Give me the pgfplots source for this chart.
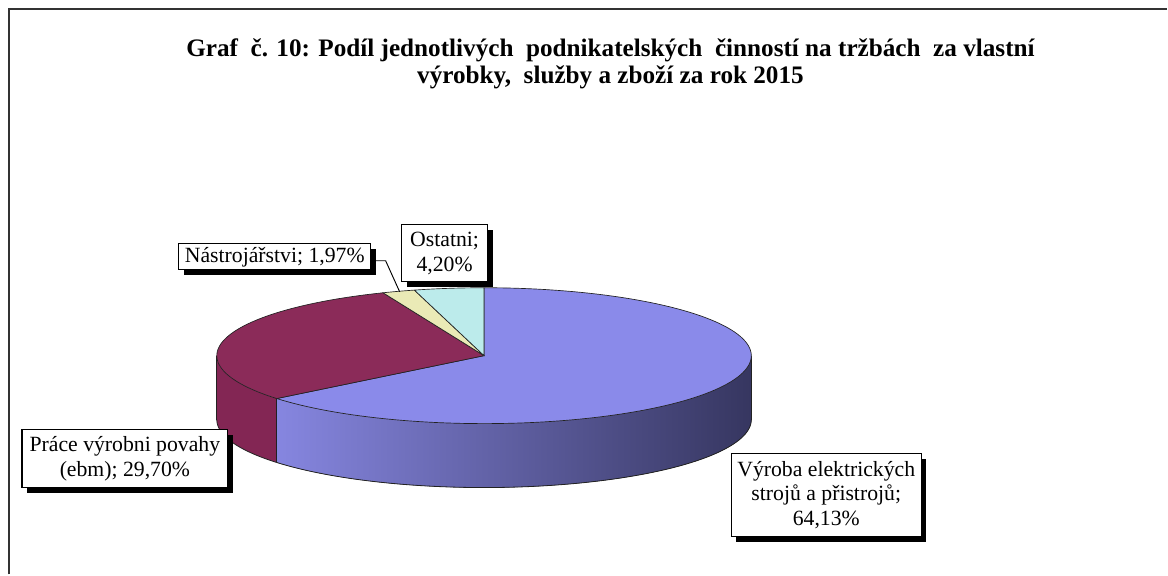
\documentclass[border=0pt]{standalone}
\usepackage{fontspec}
\setmainfont{Liberation Serif}
\usepackage{pgfplots}
\usepackage{pgfplotstable}
\pgfplotsset{compat=1.18}
\usepgfplotslibrary{fillbetween}
\usetikzlibrary{shadows}

\definecolor{blueT}{HTML}{8A8AEA}
\definecolor{blueL}{HTML}{8686E0}
\definecolor{blueD}{HTML}{363660}
\definecolor{maroonT}{HTML}{8B2B59}
\definecolor{maroonS}{HTML}{832654}
\definecolor{creamT}{HTML}{EAEAB6}
\definecolor{cyanT}{HTML}{BCEBEB}
\definecolor{edge}{HTML}{222222}
\newcommand\lbl{\fontsize{16.3}{18.5}\selectfont}

\pgfplotstableread{
id value
1 64.13
2 29.70
3 1.97
4 4.20
}\piedata

\begin{document}
\begin{tikzpicture}
\pgfplotstablegetelem{0}{value}\of\piedata \let\va\pgfplotsretval
\pgfplotstablegetelem{1}{value}\of\piedata \let\vb\pgfplotsretval
\pgfplotstablegetelem{2}{value}\of\piedata \let\vc\pgfplotsretval
\pgfplotstablegetelem{3}{value}\of\piedata \let\vd\pgfplotsretval
\pgfmathsetmacro\aA{90}
\pgfmathsetmacro\aB{\aA-3.6*\va}
\pgfmathsetmacro\aC{\aB-3.6*\vb}
\pgfmathsetmacro\aD{\aC-3.6*\vc}
\pgfmathsetmacro\aE{\aD-3.6*\vd}
\def\cx{484.5}\def\cy{219}\def\rx{267.5}\def\ry{68}\def\dep{64}
\pgfmathsetmacro\bx{\cx+\rx*cos(\aB)}
\pgfmathsetmacro\by{\cy+\ry*sin(\aB)}
\pgfmathsetmacro\byb{\by-\dep}
\pgfmathsetmacro\xl{\cx-\rx}
\pgfmathsetmacro\xr{\cx+\rx}
\pgfmathsetmacro\yb{\cy-\dep}
\begin{axis}[x=0.75pt,y=0.75pt,xmin=0,xmax=1168,ymin=0,ymax=575,
  hide axis,clip=false,samples=120]
\path (axis cs:0,0) rectangle (axis cs:1168,575);
% frame
\draw[line width=1.6pt, color=black!80] (axis cs:9,0) -- (axis cs:9,566) -- (axis cs:1168,566);
% side walls
\addplot[name path=mtop, draw=none, domain=-180:\aB, variable=\t] ({\cx+\rx*cos(\t)},{\cy+\ry*sin(\t)});
\addplot[name path=mbot, draw=none, domain=-180:\aB, variable=\t] ({\cx+\rx*cos(\t)},{\cy-\dep+\ry*sin(\t)});
\addplot[fill=maroonS, draw=none] fill between[of=mtop and mbot];
\addplot[name path=btop, draw=none, domain=\aB:0, variable=\t] ({\cx+\rx*cos(\t)},{\cy+\ry*sin(\t)});
\addplot[name path=bbot, draw=none, domain=\aB:0, variable=\t] ({\cx+\rx*cos(\t)},{\cy-\dep+\ry*sin(\t)});
\addplot[left color=blueL, right color=blueD, draw=none] fill between[of=btop and bbot];
\addplot[edge, line width=0.6pt, domain=-180:0, variable=\t] ({\cx+\rx*cos(\t)},{\cy-\dep+\ry*sin(\t)});
\draw[edge, line width=0.6pt] (axis cs:\xl,\cy) -- (axis cs:\xl,\yb);
\draw[edge, line width=0.6pt] (axis cs:\xr,\cy) -- (axis cs:\xr,\yb);
\draw[edge, line width=0.5pt] (axis cs:\bx,\by) -- (axis cs:\bx,\byb);
% top wedges
\addplot[fill=blueT, draw=edge, line width=0.5pt, domain=\aB:\aA, variable=\t] ({\cx+\rx*cos(\t)},{\cy+\ry*sin(\t)}) -- (axis cs:\cx,\cy) -- cycle;
\addplot[fill=maroonT, draw=edge, line width=0.5pt, domain=\aC:\aB, variable=\t] ({\cx+\rx*cos(\t)},{\cy+\ry*sin(\t)}) -- (axis cs:\cx,\cy) -- cycle;
\addplot[fill=creamT, draw=edge, line width=0.5pt, domain=\aD:\aC, samples=20, variable=\t] ({\cx+\rx*cos(\t)},{\cy+\ry*sin(\t)}) -- (axis cs:\cx,\cy) -- cycle;
\addplot[fill=cyanT, draw=edge, line width=0.5pt, domain=\aE:\aD, samples=30, variable=\t] ({\cx+\rx*cos(\t)},{\cy+\ry*sin(\t)}) -- (axis cs:\cx,\cy) -- cycle;
% leader line
\draw[black, line width=0.7pt] (axis cs:371,314) -- (axis cs:386,314) -- (axis cs:400,283);
% labels
\tikzset{lab/.style={draw=black, line width=0.9pt, fill=white, inner sep=0pt, align=center, font=\lbl,
  drop shadow={shadow xshift=3.8pt, shadow yshift=-3.8pt, fill=black, opacity=1}}}
\node[lab, minimum width=144pt, minimum height=19.5pt] at (axis cs:275,318) {Nástrojářstvi; 1,97\%};
\node[lab, minimum width=64.5pt, minimum height=42.75pt] at (axis cs:445,321.5) {Ostatni;\\4,20\%};
\node[lab, minimum width=154.5pt, minimum height=43.5pt] at (axis cs:125,116) {Práce výrobni povahy\\(ebm); 29,70\%};
\node[lab, minimum width=142.5pt, minimum height=62.25pt] at (axis cs:827,79.5) {Výroba elektrických\\strojů a přistrojů;\\64,13\%};
% title
\node[align=center, font=\bfseries\fontsize{18.9}{20.25}\selectfont] at (axis cs:611,511.5)
  {Graf\ \ č. 10: Podíl jednotlivých\ \ podnikatelských\ \ činností na tržbách\ \ za vlastní\\výrobky,\ \ služby a zboží za rok 2015};
\end{axis}
\end{tikzpicture}
\end{document}
